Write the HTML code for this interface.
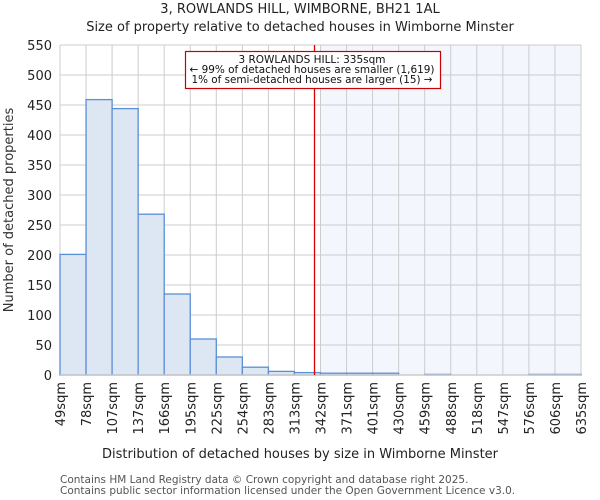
<!DOCTYPE html>
<html><head><meta charset="utf-8"><style>
body{margin:0;background:#fff;}
svg{display:block;font-family:"DejaVu Sans","Liberation Sans",sans-serif;}
</style></head><body>
<svg id="chart" width="600" height="500" viewBox="0 0 600 500">
<text x="300" y="13" text-anchor="middle" font-size="13" fill="#222">3, ROWLANDS HILL, WIMBORNE, BH21 1AL</text>
<text x="300" y="31" text-anchor="middle" font-size="13" fill="#222">Size of property relative to detached houses in Wimborne Minster</text>
<g id="plot"></g>
<text x="300" y="458" text-anchor="middle" font-size="13" fill="#222">Distribution of detached houses by size in Wimborne Minster</text>
<text transform="translate(13,210) rotate(-90)" text-anchor="middle" font-size="13" fill="#333">Number of detached properties</text>
<text x="60" y="483" font-size="10.5" fill="#555">Contains HM Land Registry data © Crown copyright and database right 2025.</text>
<text x="60" y="494" font-size="10.5" fill="#555">Contains public sector information licensed under the Open Government Licence v3.0.</text>
</svg>
<script>
const binLabels=["49sqm","78sqm","107sqm","137sqm","166sqm","195sqm","225sqm","254sqm","283sqm","313sqm","342sqm","371sqm","401sqm","430sqm","459sqm","488sqm","518sqm","547sqm","576sqm","606sqm","635sqm"];
const counts=[201,459,444,268,135,60,30,13,6,4,3,3,3,0,1,0,0,0,1,1];
const yTicks=[0,50,100,150,200,250,300,350,400,450,500,550];
const markerIndex=9.77;
const highlightFrom=10;

const NS="http://www.w3.org/2000/svg";
const g=document.getElementById('plot');
const L=60,R=581,T=45,B=375,yMax=550;
const bw=(R-L)/counts.length;
const xs=i=>L+i*bw;
const ys=v=>B-(v/yMax)*(B-T);
function mk(tag,at){const e=document.createElementNS(NS,tag);for(const k in at)e.setAttribute(k,at[k]);g.appendChild(e);return e;}

const hl=mk('rect',{x:xs(highlightFrom),y:T,width:R-xs(highlightFrom),height:B-T,fill:'#f3f6fd'});


yTicks.forEach(v=>{
  const l=mk('line',{x1:L,x2:R,y1:ys(v),y2:ys(v),stroke:'#ccc','stroke-width':1});
  
  
  const t=mk('text',{x:L-8,y:ys(v)+5,'text-anchor':'end','font-size':13,fill:'#222'});
  t.textContent=v;
  
  
});
binLabels.forEach((s,i)=>{
  const l=mk('line',{x1:xs(i),x2:xs(i),y1:T,y2:B,stroke:'#ccc','stroke-width':1});
  
  
  const t=mk('text',{transform:`translate(${xs(i)+5},382) rotate(-90)`,'text-anchor':'end','font-size':13,fill:'#222'});
  t.textContent=s;
  
  
});
counts.forEach((v,i)=>{
  if(v<=0)return;
  const r=mk('rect',{x:xs(i),y:ys(v),width:bw,height:B-ys(v),fill:i>=highlightFrom?'#e4ebf7':'#dde6f3',stroke:'#5b8fd6','stroke-width':1.3});
  
  
});
const ax=mk('line',{x1:L,x2:R,y1:B,y2:B,stroke:'#ccc','stroke-width':1.5});


const mx=xs(markerIndex);
const ml=mk('line',{x1:mx,x2:mx,y1:T,y2:B,stroke:'#d00','stroke-width':1.3});


const box=mk('rect',{x:185.5,y:51.5,width:255,height:37,fill:'#fff',stroke:'#c00','stroke-width':1.2});


const annLines=["3 ROWLANDS HILL: 335sqm","← 99% of detached houses are smaller (1,619)","1% of semi-detached houses are larger (15) →"];
const annWidths=[147,245,241];
annLines.forEach((s,i)=>{
  const t=mk('text',{x:312,y:63+i*10,'text-anchor':'middle','font-size':11,fill:'#111',textLength:annWidths[i],lengthAdjust:'spacingAndGlyphs'});
  t.textContent=s;
  
  
});
</script>
</body></html>
